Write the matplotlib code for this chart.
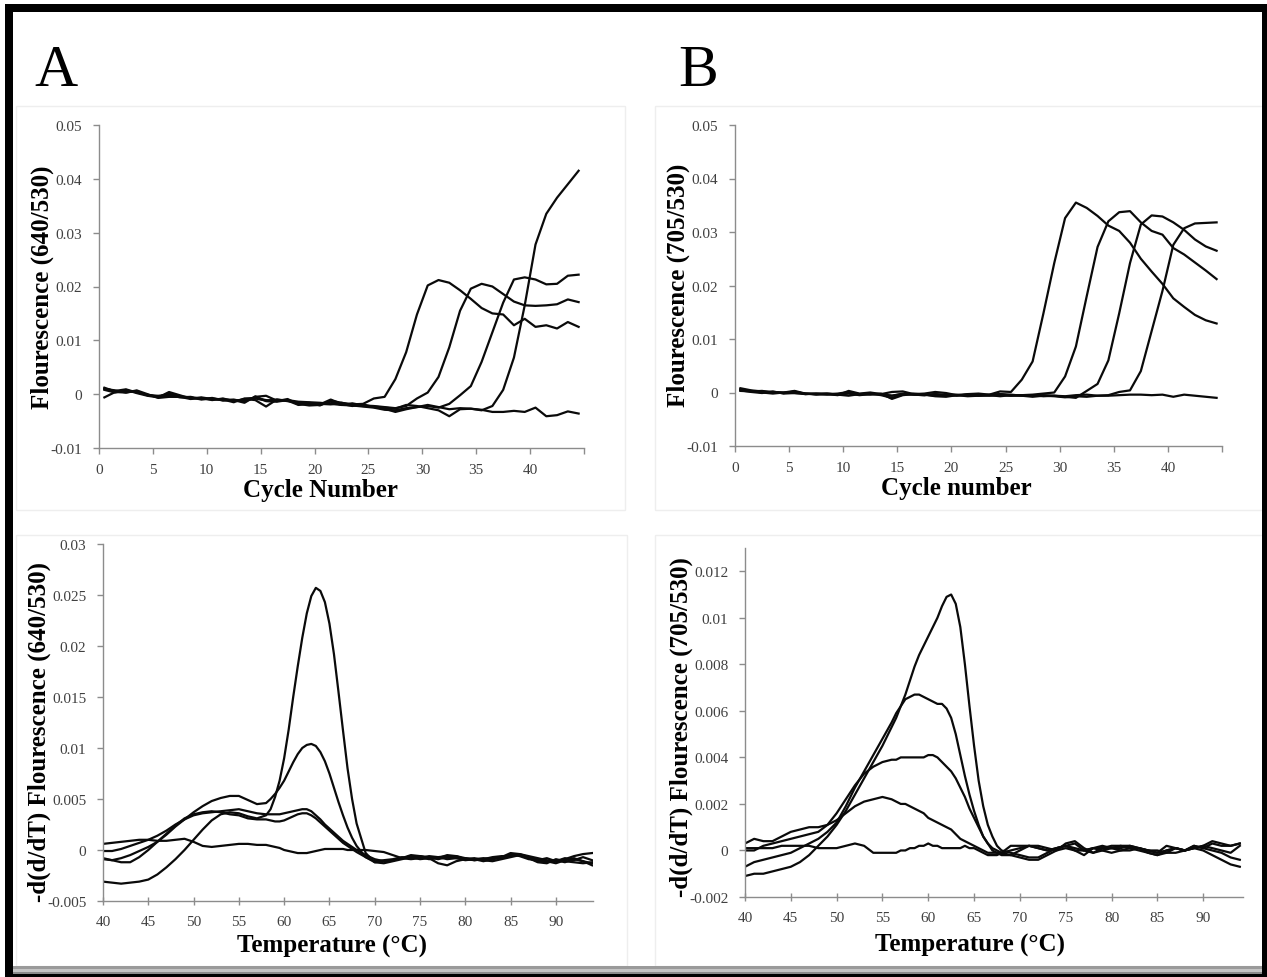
import numpy as np
import matplotlib
matplotlib.use('Agg')
import matplotlib.pyplot as plt
from matplotlib.patches import Rectangle

plt.rcParams['font.family'] = ['Liberation Serif', 'DejaVu Serif']

W, H = 1267, 978

# ---------------- data ----------------
cycles = np.arange(45) + 0.5
cycle_ticks = [0, 5, 10, 15, 20, 25, 30, 35, 40, 45]
cycle_labels = ['0', '5', '10', '15', '20', '25', '30', '35', '40', '']

ampA_1 = [0.0012, 0.0005, 0.0006, 0.0004, -0.0002, -0.0004, -0.0003, -0.0005, -0.0007, -0.0008,
          -0.0010, -0.0009, -0.0012, -0.0011, -0.0008, -0.0012, -0.0010, -0.0013, -0.0016, -0.0017,
          -0.0018, -0.0019, -0.0016, -0.0019, -0.0018,
          -0.0008, -0.0005, 0.0028, 0.0078, 0.0148, 0.0202, 0.0212, 0.0207, 0.0193, 0.0177,
          0.0160, 0.0150, 0.0148, 0.0128, 0.0140, 0.0125, 0.0128, 0.0122, 0.0134, 0.0125]
ampA_2 = [0.0008, 0.0003, 0.0008, 0.0002, -0.0003, -0.0006, 0.0004, -0.0002, -0.0008, -0.0006,
          -0.0009, -0.0011, -0.0010, -0.0014, -0.0005, -0.0003, -0.0012, -0.0011, -0.0014, -0.0015,
          -0.0016, -0.0018, -0.0020, -0.0017, -0.0021,
          -0.0022, -0.0024, -0.0026, -0.0022, -0.0008, 0.0003, 0.0032, 0.0087, 0.0155, 0.0196,
          0.0205, 0.0200, 0.0186, 0.0172, 0.0165, 0.0164, 0.0165, 0.0167, 0.0176, 0.0171]
ampA_3 = [-0.0006, 0.0004, 0.0003, 0.0007, 0.0000, -0.0007, -0.0005, -0.0005, -0.0009, -0.0007,
          -0.0011, -0.0008, -0.0013, -0.0009, -0.0011, -0.0023, -0.0010, -0.0012, -0.0020, -0.0018,
          -0.0019, -0.0010, -0.0018, -0.0022, -0.0019,
          -0.0024, -0.0027, -0.0033, -0.0028, -0.0024, -0.0022, -0.0025, -0.0018, -0.0002, 0.0015,
          0.0060, 0.0115, 0.0170, 0.0213, 0.0217, 0.0213, 0.0204, 0.0205, 0.0220, 0.0222]
ampA_4 = [0.0010, 0.0007, 0.0003, 0.0006, -0.0002, -0.0003, -0.0001, -0.0006, -0.0005, -0.0009,
          -0.0007, -0.0012, -0.0011, -0.0016, -0.0004, -0.0013, -0.0014, -0.0011, -0.0018, -0.0021,
          -0.0020, -0.0014, -0.0020, -0.0021, -0.0023,
          -0.0025, -0.0029, -0.0030, -0.0026, -0.0024, -0.0020, -0.0024, -0.0028, -0.0026, -0.0027,
          -0.0030, -0.0022, 0.0008, 0.0068, 0.0165, 0.0278, 0.0335, 0.0365, 0.0390, 0.0415]
ampA_5 = [0.0010, 0.0006, 0.0009, 0.0003, -0.0001, -0.0005, 0.0001, -0.0004, -0.0006, -0.0010,
          -0.0008, -0.0010, -0.0015, -0.0008, -0.0007, -0.0011, -0.0013, -0.0009, -0.0019, -0.0016,
          -0.0021, -0.0012, -0.0016, -0.0020, -0.0022,
          -0.0023, -0.0025, -0.0027, -0.0020, -0.0022, -0.0026, -0.0030, -0.0041, -0.0028, -0.0027,
          -0.0029, -0.0033, -0.0033, -0.0031, -0.0033, -0.0025, -0.0041, -0.0039, -0.0032, -0.0036]

ampB_1 = [0.0008, 0.0004, 0.0002, 0.0001, 0.0000, -0.0001, -0.0002, -0.0003, -0.0003, -0.0004,
          -0.0002, -0.0005, -0.0003, -0.0004, -0.0006, -0.0003, -0.0004, -0.0005, -0.0003, -0.0005,
          -0.0004, -0.0006, -0.0005, -0.0004, 0.0002,
          0.0001, 0.0024, 0.0058, 0.0148, 0.0242, 0.0326, 0.0355, 0.0345, 0.0330, 0.0312,
          0.0302, 0.0280, 0.0250, 0.0226, 0.0203, 0.0176, 0.0160, 0.0145, 0.0135, 0.0129]
ampB_2 = [0.0005, 0.0003, 0.0000, -0.0002, 0.0000, 0.0003, -0.0002, -0.0004, -0.0003, -0.0005,
          0.0003, -0.0002, 0.0000, -0.0003, 0.0001, 0.0002, -0.0003, -0.0002, 0.0001, -0.0001,
          -0.0005, -0.0003, -0.0002, -0.0004, -0.0003,
          -0.0006, -0.0005, -0.0004, -0.0002, 0.0000, 0.0030, 0.0086, 0.0180, 0.0272, 0.0320,
          0.0337, 0.0339, 0.0318, 0.0302, 0.0295, 0.0270, 0.0258, 0.0243, 0.0228, 0.0212]
ampB_3 = [0.0006, 0.0002, 0.0003, 0.0000, -0.0001, 0.0002, -0.0003, -0.0002, -0.0004, -0.0002,
          0.0001, -0.0003, -0.0002, -0.0005, -0.0010, -0.0004, -0.0002, -0.0004, -0.0007, -0.0008,
          -0.0005, -0.0004, -0.0006, -0.0005, -0.0003,
          -0.0004, -0.0006, -0.0005, -0.0007, -0.0006, -0.0008, -0.0010, 0.0003, 0.0016, 0.0060,
          0.0148, 0.0242, 0.0314, 0.0331, 0.0329, 0.0318, 0.0304, 0.0286, 0.0273, 0.0265]
ampB_4 = [0.0004, 0.0001, -0.0001, 0.0002, -0.0002, -0.0001, -0.0003, -0.0002, -0.0002, -0.0004,
          -0.0006, -0.0003, -0.0004, -0.0002, -0.0012, -0.0005, -0.0003, -0.0004, -0.0006, -0.0004,
          -0.0005, -0.0007, -0.0006, -0.0005, -0.0007,
          -0.0005, -0.0006, -0.0008, -0.0006, -0.0007, -0.0009, -0.0007, -0.0008, -0.0006, -0.0005,
          0.0001, 0.0004, 0.0040, 0.0115, 0.0190, 0.0276, 0.0307, 0.0316, 0.0317, 0.0318]
ampB_5 = [0.0003, 0.0002, 0.0001, 0.0000, -0.0001, 0.0001, -0.0002, -0.0003, -0.0002, -0.0003,
          -0.0001, -0.0004, -0.0002, -0.0003, -0.0006, -0.0002, -0.0004, -0.0005, -0.0003, -0.0005,
          -0.0006, -0.0004, -0.0005, -0.0006, -0.0005,
          -0.0006, -0.0005, -0.0006, -0.0005, -0.0006, -0.0007, -0.0005, -0.0004, -0.0006, -0.0006,
          -0.0005, -0.0004, -0.0004, -0.0005, -0.0004, -0.0008, -0.0004, -0.0006, -0.0008, -0.0010]

# Melt curves A: 1 degC steps 40-57, 0.5 degC steps 58-68, 1 degC steps 69-94
tempsA = ([40, 41, 42, 43, 44, 45, 46, 47, 48, 49, 50, 51, 52, 53, 54, 55, 56, 57]
          + [58, 58.5, 59, 59.5, 60, 60.5, 61, 61.5, 62, 62.5, 63, 63.5, 64, 64.5, 65, 65.5,
             66, 66.5, 67, 67.5, 68]
          + [69, 70, 71, 72, 73, 74, 75, 76, 77, 78, 79, 80, 81, 82, 83, 84, 85, 86, 87, 88,
             89, 90, 91, 92, 93, 94])
meltA_1 = ([-0.0031, -0.0032, -0.0033, -0.0032, -0.0031, -0.0029, -0.0024, -0.0017, -0.0009, 0.0000,
            0.0010, 0.0020, 0.0029, 0.0035, 0.0037, 0.0036, 0.0033, 0.0031]
           + [0.0034, 0.0040, 0.0052, 0.0068, 0.0090, 0.0118, 0.0150, 0.0180, 0.0208, 0.0232,
              0.0249, 0.0257, 0.0254, 0.0243, 0.0222, 0.0192, 0.0155, 0.0117, 0.0080, 0.0050, 0.0026]
           + [-0.0003, -0.0012, -0.0013, -0.0011, -0.0009, -0.0007, -0.0009, -0.0008, -0.0007, -0.0006,
              -0.0008, -0.0010, -0.0009, -0.0008, -0.0009, -0.0007, -0.0006, -0.0005, -0.0008, -0.0011,
              -0.0012, -0.0010, -0.0012, -0.0009, -0.0011, -0.0013])
meltA_2 = ([-0.0009, -0.0010, -0.0008, -0.0005, -0.0001, 0.0003, 0.0008, 0.0015, 0.0023, 0.0030,
            0.0037, 0.0043, 0.0048, 0.0051, 0.0053, 0.0053, 0.0049, 0.0045]
           + [0.0046, 0.0050, 0.0055, 0.0061, 0.0068, 0.0077, 0.0086, 0.0094, 0.0100, 0.0103,
              0.0104, 0.0102, 0.0096, 0.0087, 0.0075, 0.0061, 0.0047, 0.0034, 0.0022, 0.0012, 0.0004]
           + [-0.0007, -0.0012, -0.0011, -0.0010, -0.0008, -0.0006, -0.0007, -0.0009, -0.0008, -0.0005,
              -0.0006, -0.0009, -0.0010, -0.0009, -0.0008, -0.0008, -0.0004, -0.0006, -0.0009, -0.0010,
              -0.0008, -0.0011, -0.0008, -0.0010, -0.0007, -0.0010])
meltA_3 = ([-0.0001, -0.0001, 0.0001, 0.0004, 0.0007, 0.0010, 0.0014, 0.0019, 0.0025, 0.0030,
            0.0034, 0.0036, 0.0037, 0.0038, 0.0039, 0.0040, 0.0038, 0.0036]
           + [0.0035, 0.0035, 0.0035, 0.0035, 0.0036, 0.0037, 0.0038, 0.0039, 0.0040, 0.0040,
              0.0038, 0.0034, 0.0030, 0.0025, 0.0021, 0.0017, 0.0013, 0.0009, 0.0006, 0.0003, 0.0000]
           + [-0.0005, -0.0009, -0.0011, -0.0010, -0.0008, -0.0005, -0.0006, -0.0007, -0.0009, -0.0007,
              -0.0006, -0.0008, -0.0009, -0.0011, -0.0009, -0.0007, -0.0003, -0.0004, -0.0007, -0.0009,
              -0.0011, -0.0013, -0.0010, -0.0008, -0.0011, -0.0015])
meltA_4 = ([-0.0008, -0.0010, -0.0012, -0.0012, -0.0007, 0.0000, 0.0008, 0.0016, 0.0024, 0.0031,
            0.0035, 0.0037, 0.0038, 0.0037, 0.0035, 0.0034, 0.0031, 0.0030]
           + [0.0030, 0.0029, 0.0028, 0.0028, 0.0029, 0.0031, 0.0033, 0.0035, 0.0036, 0.0036,
              0.0034, 0.0031, 0.0027, 0.0023, 0.0019, 0.0015, 0.0011, 0.0007, 0.0004, 0.0001, -0.0002]
           + [-0.0007, -0.0011, -0.0010, -0.0009, -0.0007, -0.0008, -0.0006, -0.0008, -0.0013, -0.0015,
              -0.0011, -0.0009, -0.0008, -0.0010, -0.0011, -0.0009, -0.0007, -0.0005, -0.0008, -0.0012,
              -0.0013, -0.0009, -0.0011, -0.0012, -0.0013, -0.0012])
meltA_5 = ([0.0006, 0.0007, 0.0008, 0.0009, 0.0010, 0.0010, 0.0009, 0.0009, 0.0010, 0.0011,
            0.0008, 0.0004, 0.0003, 0.0004, 0.0005, 0.0006, 0.0006, 0.0005]
           + [0.0005, 0.0004, 0.0003, 0.0002, 0.0000, -0.0001, -0.0002, -0.0003, -0.0003, -0.0003,
              -0.0002, -0.0001, 0.0000, 0.0001, 0.0001, 0.0001, 0.0001, 0.0001, 0.0000, 0.0000, 0.0000]
           + [0.0000, -0.0001, -0.0002, -0.0005, -0.0008, -0.0009, -0.0008, -0.0006, -0.0007, -0.0009,
              -0.0008, -0.0008, -0.0010, -0.0009, -0.0007, -0.0006, -0.0006, -0.0004, -0.0006, -0.0008,
              -0.0010, -0.0011, -0.0009, -0.0006, -0.0004, -0.0003])

# Melt curves B: 1 degC steps 40-55, 0.5 degC steps 56-68, 1 degC steps 69-94
tempsB = ([40, 41, 42, 43, 44, 45, 46, 47, 48, 49, 50, 51, 52, 53, 54, 55]
          + [56, 56.5, 57, 57.5, 58, 58.5, 59, 59.5, 60, 60.5, 61, 61.5, 62, 62.5, 63, 63.5,
             64, 64.5, 65, 65.5, 66, 66.5, 67, 67.5, 68]
          + [69, 70, 71, 72, 73, 74, 75, 76, 77, 78, 79, 80, 81, 82, 83, 84, 85, 86, 87, 88,
             89, 90, 91, 92, 93, 94])
meltB_1 = ([-0.0011, -0.0010, -0.0010, -0.0009, -0.0008, -0.0007, -0.0005, -0.0002, 0.0002, 0.0006,
            0.0011, 0.0017, 0.0024, 0.0031, 0.0038, 0.0045]
           + [0.0053, 0.0057, 0.0062, 0.0067, 0.0073, 0.0079, 0.0084, 0.0088, 0.0092, 0.0096,
              0.0100, 0.0105, 0.0109, 0.0110, 0.0106, 0.0096, 0.0080, 0.0062, 0.0045, 0.0030,
              0.0019, 0.0011, 0.0006, 0.0002, 0.0000]
           + [-0.0001, -0.0002, -0.0003, -0.0003, -0.0001, 0.0001, 0.0002, 0.0000, -0.0002, 0.0001,
              0.0001, 0.0002, 0.0002, 0.0001, 0.0000, -0.0001, -0.0002, 0.0000, 0.0001, 0.0000,
              0.0001, 0.0000, -0.0002, -0.0004, -0.0006, -0.0007])
meltB_2 = ([-0.0007, -0.0005, -0.0004, -0.0003, -0.0002, -0.0001, 0.0001, 0.0003, 0.0005, 0.0008,
            0.0012, 0.0019, 0.0027, 0.0034, 0.0041, 0.0048]
           + [0.0055, 0.0059, 0.0062, 0.0065, 0.0066, 0.0067, 0.0067, 0.0066, 0.0065, 0.0064,
              0.0063, 0.0063, 0.0061, 0.0057, 0.0050, 0.0041, 0.0032, 0.0024, 0.0017, 0.0011,
              0.0006, 0.0003, 0.0000, -0.0001, -0.0002]
           + [-0.0002, 0.0000, 0.0002, 0.0002, 0.0001, 0.0000, 0.0003, 0.0004, 0.0001, -0.0001,
              0.0001, 0.0001, 0.0001, 0.0002, 0.0001, 0.0000, -0.0001, 0.0002, 0.0001, 0.0000,
              0.0002, 0.0001, 0.0000, -0.0001, -0.0003, -0.0004])
meltB_3 = ([0.0000, 0.0000, 0.0002, 0.0003, 0.0004, 0.0005, 0.0006, 0.0007, 0.0008, 0.0011,
            0.0016, 0.0022, 0.0028, 0.0033, 0.0036, 0.0038]
           + [0.0039, 0.0039, 0.0040, 0.0040, 0.0040, 0.0040, 0.0040, 0.0040, 0.0041, 0.0041,
              0.0040, 0.0038, 0.0036, 0.0034, 0.0031, 0.0027, 0.0023, 0.0018, 0.0014, 0.0010,
              0.0006, 0.0003, 0.0001, 0.0000, -0.0001]
           + [-0.0002, -0.0003, -0.0004, -0.0004, -0.0002, 0.0000, 0.0001, 0.0000, 0.0000, 0.0001,
              0.0000, -0.0001, 0.0000, 0.0001, 0.0001, 0.0000, 0.0000, -0.0001, -0.0001, 0.0000,
              0.0002, 0.0001, 0.0003, 0.0002, 0.0002, 0.0003])
meltB_4 = ([0.0003, 0.0005, 0.0004, 0.0004, 0.0006, 0.0008, 0.0009, 0.0010, 0.0010, 0.0011,
            0.0013, 0.0016, 0.0019, 0.0021, 0.0022, 0.0023]
           + [0.0022, 0.0021, 0.0020, 0.0020, 0.0019, 0.0018, 0.0017, 0.0016, 0.0014, 0.0013,
              0.0012, 0.0011, 0.0010, 0.0009, 0.0007, 0.0005, 0.0004, 0.0003, 0.0002, 0.0001,
              0.0000, -0.0001, -0.0001, -0.0001, -0.0001]
           + [0.0000, 0.0001, 0.0002, 0.0001, 0.0000, 0.0001, 0.0002, 0.0003, 0.0000, -0.0001,
              0.0000, 0.0001, 0.0002, 0.0002, 0.0001, -0.0001, -0.0002, -0.0001, 0.0001, 0.0000,
              0.0001, 0.0002, 0.0001, 0.0000, -0.0001, 0.0002])
meltB_5 = ([0.0001, 0.0001, 0.0001, 0.0001, 0.0002, 0.0002, 0.0002, 0.0002, 0.0001, 0.0001,
            0.0001, 0.0002, 0.0003, 0.0002, -0.0001, -0.0001]
           + [-0.0001, -0.0001, 0.0000, 0.0000, 0.0001, 0.0001, 0.0002, 0.0002, 0.0003, 0.0002,
              0.0002, 0.0001, 0.0001, 0.0001, 0.0001, 0.0001, 0.0002, 0.0001, 0.0001, 0.0000,
              -0.0001, -0.0002, -0.0002, -0.0002, -0.0001]
           + [0.0002, 0.0002, 0.0002, 0.0001, 0.0000, 0.0001, 0.0002, 0.0001, 0.0000, 0.0001,
              0.0002, 0.0001, 0.0000, 0.0000, 0.0001, 0.0000, -0.0001, 0.0000, 0.0001, 0.0000,
              0.0001, 0.0002, 0.0004, 0.0003, 0.0002, 0.0003])

temp_ticks = [40, 45, 50, 55, 60, 65, 70, 75, 80, 85, 90]
temp_labels = [str(t) for t in temp_ticks]

ampA_series = [ampA_1, ampA_2, ampA_3, ampA_4, ampA_5]
ampB_series = [ampB_1, ampB_2, ampB_3, ampB_4, ampB_5]
meltA_series = [meltA_1, meltA_2, meltA_3, meltA_4, meltA_5]
meltB_series = [meltB_1, meltB_2, meltB_3, meltB_4, meltB_5]

amp_yticks = [-0.01, 0, 0.01, 0.02, 0.03, 0.04, 0.05]
amp_ylabels = ['-0.01', '0', '0.01', '0.02', '0.03', '0.04', '0.05']
meltA_yticks = [-0.005, 0, 0.005, 0.01, 0.015, 0.02, 0.025, 0.03]
meltA_ylabels = ['-0.005', '0', '0.005', '0.01', '0.015', '0.02', '0.025', '0.03']
meltB_yticks = [-0.002, 0, 0.002, 0.004, 0.006, 0.008, 0.01, 0.012]
meltB_ylabels = ['-0.002', '0', '0.002', '0.004', '0.006', '0.008', '0.01', '0.012']

# ---------------- figure ----------------
fig = plt.figure(figsize=(W / 100, H / 100), dpi=100)
fig.patch.set_facecolor('white')


def frac_rect(l, r, t, b):
    return [l / W, 1 - b / H, (r - l) / W, (b - t) / H]


def add_frame(l, r, t, b, color='#eeeeee'):
    fig.add_artist(Rectangle((l / W, 1 - b / H), (r - l) / W, (b - t) / H,
                             transform=fig.transFigure, fill=False,
                             edgecolor=color, linewidth=1.0, zorder=0))


# faint chart frames
add_frame(16, 625, 107, 511)
add_frame(655, 1270, 107, 511)
add_frame(16, 627, 536, 967)
add_frame(655, 1270, 536, 967)

LINE = dict(color='#0a0a0a', linewidth=1.6, solid_joinstyle='round')
AXC = '#8c8c8c'
TXT = '#404040'


def style(ax, xlim, ylim, xt, xtl, yt, ytl, xdir, xlen):
    ax.set_xlim(*xlim)
    ax.set_ylim(*ylim)
    ax.patch.set_alpha(0)
    for s in ['top', 'right']:
        ax.spines[s].set_visible(False)
    for s in ['left', 'bottom']:
        ax.spines[s].set_color(AXC)
        ax.spines[s].set_linewidth(1.0)
    ax.set_xticks(xt)
    ax.set_xticklabels(xtl)
    ax.set_yticks(yt)
    ax.set_yticklabels(ytl)
    ax.tick_params(axis='both', color=AXC, labelcolor=TXT, labelsize=11, width=1.0)
    ax.tick_params(axis='y', direction='out', length=4, pad=8)
    ax.tick_params(axis='x', direction=xdir, length=xlen, pad=7)


# Top A
axA = fig.add_axes(frac_rect(99, 584, 126, 449))
for s in ampA_series:
    axA.plot(cycles, s, **LINE)
style(axA, (0, 45), (-0.01, 0.05), cycle_ticks, cycle_labels, amp_yticks, amp_ylabels, 'out', 4)

# Top B
axB = fig.add_axes(frac_rect(735, 1222, 126, 447))
for s in ampB_series:
    axB.plot(cycles, s, **LINE)
style(axB, (0, 45), (-0.01, 0.05), cycle_ticks, cycle_labels, amp_yticks, amp_ylabels, 'out', 4)

# Bottom A
axC = fig.add_axes(frac_rect(103, 593, 545, 902))
for s in meltA_series:
    axC.plot(tempsA, s, **LINE)
style(axC, (40, 94.1), (-0.005, 0.03), temp_ticks, temp_labels, meltA_yticks, meltA_ylabels, 'inout', 6)

# Bottom B
axD = fig.add_axes(frac_rect(745, 1243, 549, 898))
for s in meltB_series:
    axD.plot(tempsB, s, **LINE)
style(axD, (40, 94.35), (-0.002, 0.013), temp_ticks, temp_labels, meltB_yticks, meltB_ylabels, 'inout', 6)

# axis titles (placed in figure pixel coordinates)
LBL = dict(fontsize=18, fontweight='bold', color='black')


def ftext(x, y, s, **kw):
    fig.text(x / W, 1 - y / H, s, ha='center', va='center', **kw)


ftext(320, 490, 'Cycle Number', **LBL)
ftext(956, 488, 'Cycle number', **LBL)
ftext(332, 946, 'Temperature (°C)', **LBL)
ftext(970, 945, 'Temperature (°C)', **LBL)
ftext(42, 287, 'Flourescence (640/530)', rotation=90, **LBL)
ftext(678, 285, 'Flourescence (705/530)', rotation=90, **LBL)
ftext(39, 732, '-d(d/dT) Flourescence (640/530)', rotation=90, **LBL)
ftext(681, 727, '-d(d/dT) Flourescence (705/530)', rotation=90, **LBL)

# panel letters
fig.text(56 / W, 1 - 86 / H, 'A', ha='center', va='baseline', fontsize=43, color='black')
fig.text(698 / W, 1 - 86 / H, 'B', ha='center', va='baseline', fontsize=43, color='black')


# outer black border and bottom gray bar
def box(l, r, t, b, color):
    fig.add_artist(Rectangle((l / W, 1 - b / H), (r - l) / W, (b - t) / H,
                             transform=fig.transFigure, facecolor=color,
                             edgecolor='none', zorder=5))


box(13, 1262, 967, 970, '#9a9a9a')
box(13, 1262, 970, 973, '#c4c4c4')
box(13, 1262, 973, 975, '#8a8a8a')
box(5, 13, 5, 978, 'black')
box(5, 1267, 5, 13, 'black')
box(1262, 1267, 5, 978, 'black')
box(5, 1267, 975, 978, 'black')

fig.savefig('out.png', dpi=100, facecolor='white')
